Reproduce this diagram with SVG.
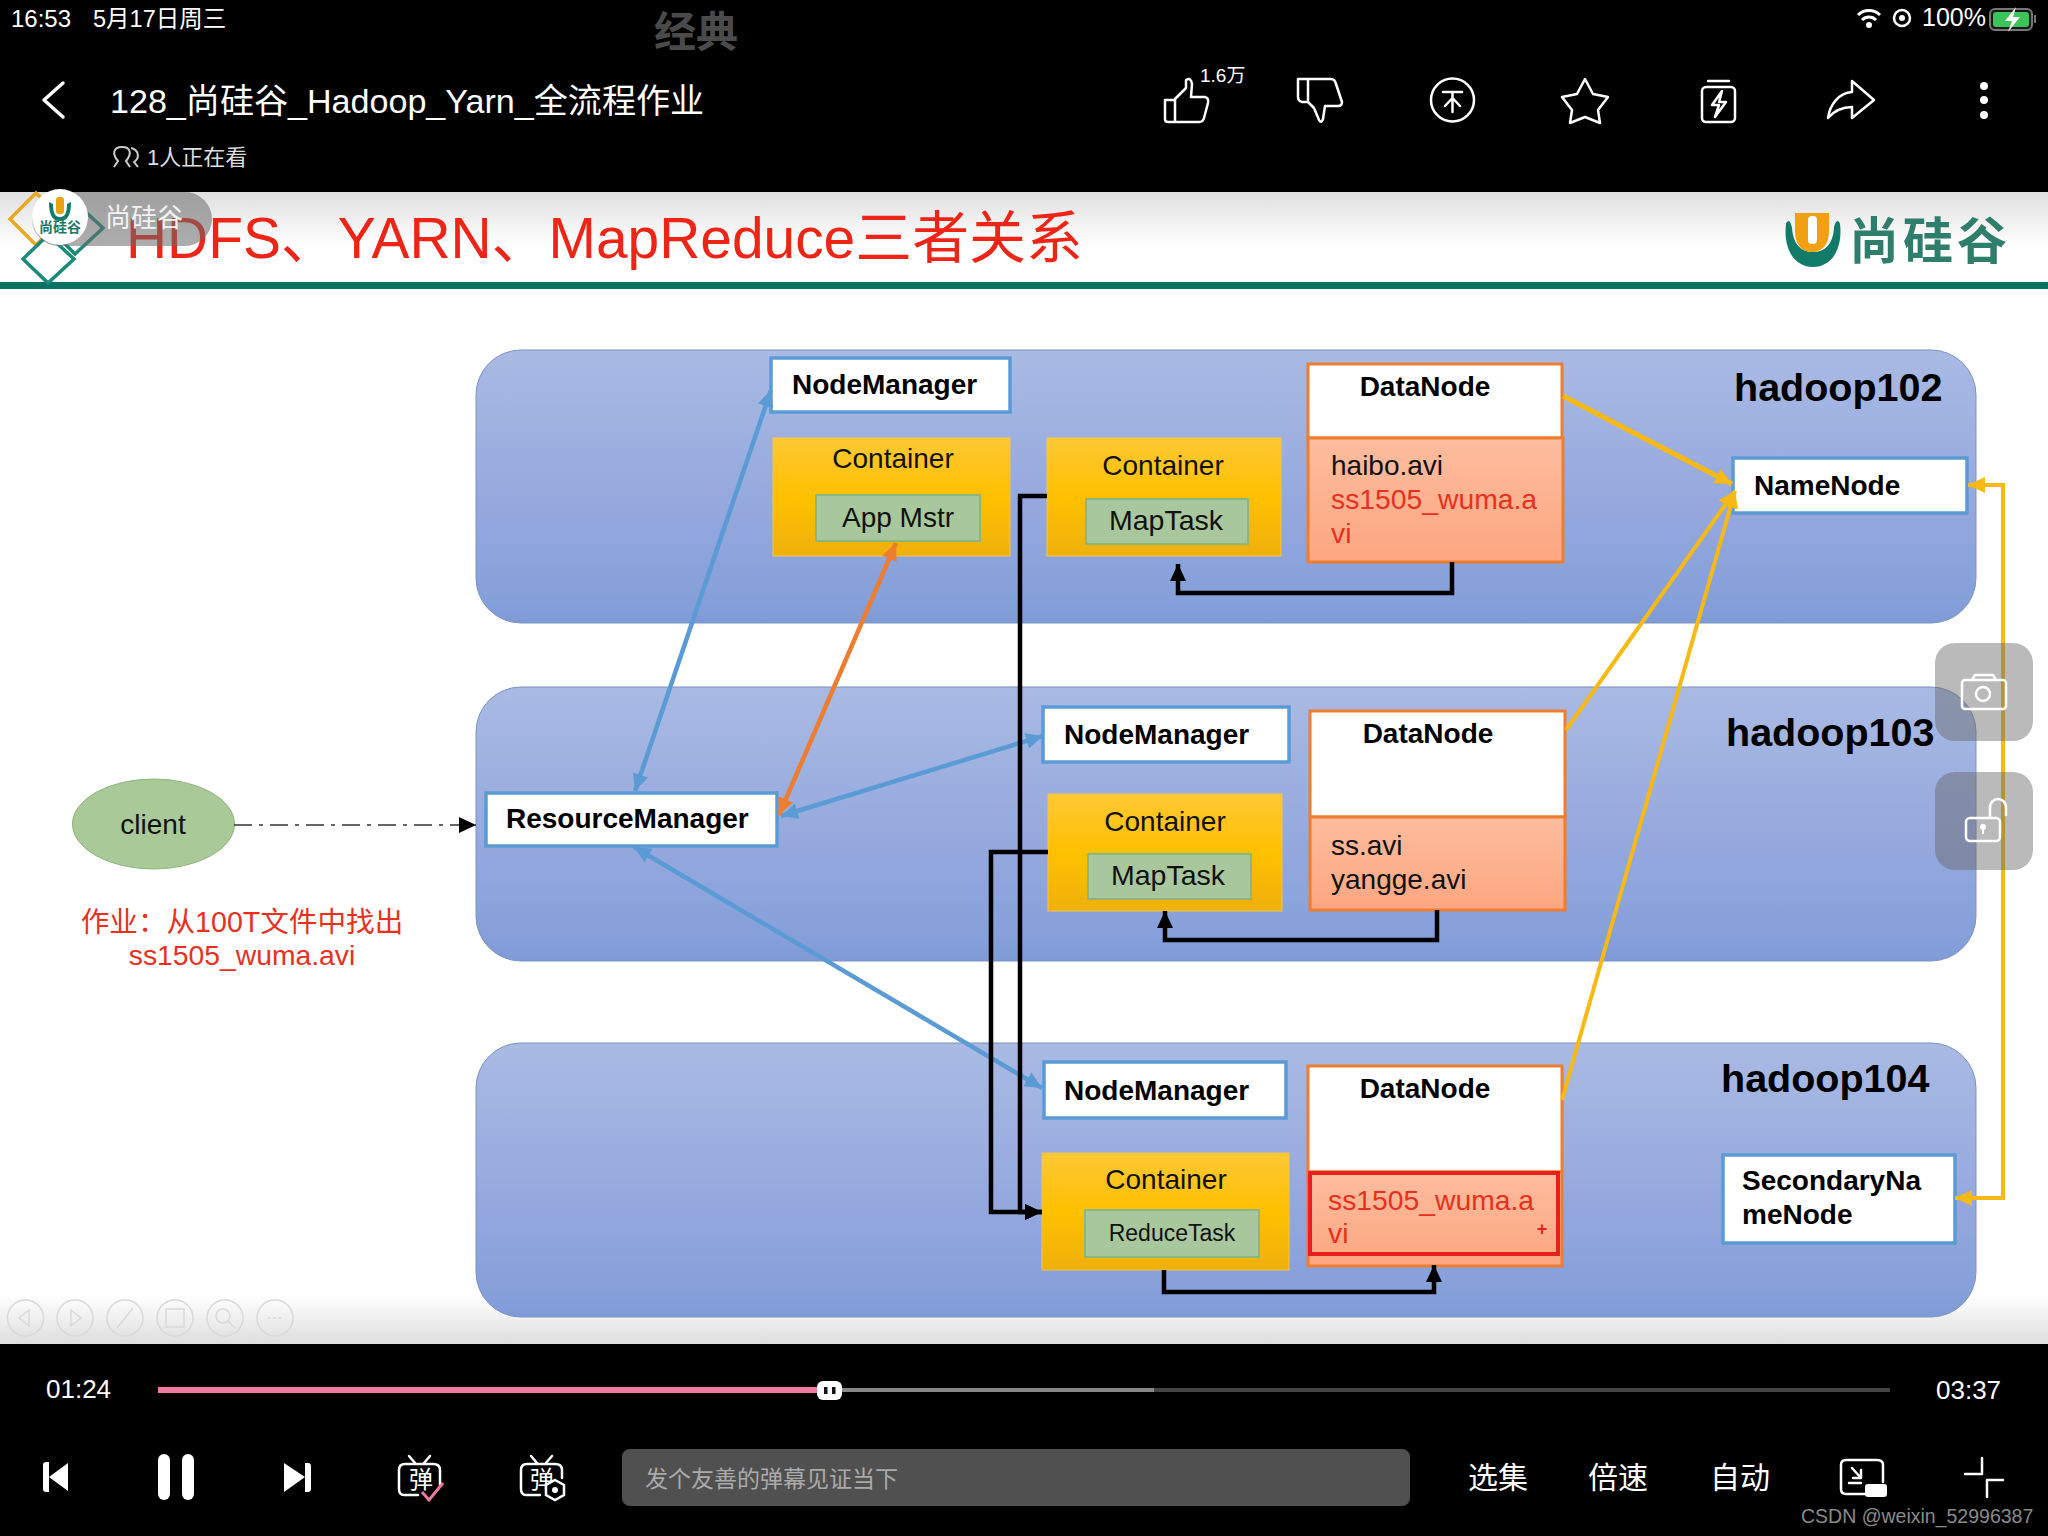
<svg xmlns="http://www.w3.org/2000/svg" width="2048" height="1536" viewBox="0 0 2048 1536">
<defs>
<linearGradient id="gPanel" x1="0" y1="0" x2="0" y2="1"><stop offset="0" stop-color="#a9bae3"/><stop offset="0.55" stop-color="#96a9de"/><stop offset="0.9" stop-color="#86a0da"/><stop offset="1" stop-color="#7f9bd6"/></linearGradient>
<linearGradient id="gCont" x1="0" y1="0" x2="0" y2="1"><stop offset="0" stop-color="#fdc835"/><stop offset="0.5" stop-color="#ffc000"/><stop offset="1" stop-color="#eeb00c"/></linearGradient>
<linearGradient id="gData" x1="0" y1="0" x2="0" y2="1"><stop offset="0" stop-color="#fdbd9e"/><stop offset="1" stop-color="#fca680"/></linearGradient>
<linearGradient id="gHead" x1="0" y1="0" x2="0" y2="1"><stop offset="0" stop-color="#e0e0e0"/><stop offset="1" stop-color="#ffffff"/></linearGradient>
<linearGradient id="gFoot" x1="0" y1="0" x2="0" y2="1"><stop offset="0" stop-color="#ffffff"/><stop offset="1" stop-color="#dedede"/></linearGradient>
<marker id="mBlue" markerUnits="userSpaceOnUse" markerWidth="20" markerHeight="20" refX="17" refY="8" orient="auto-start-reverse"><path d="M0,0L17,8L0,16z" fill="#5b9bd5"/></marker>
<marker id="mOrange" markerUnits="userSpaceOnUse" markerWidth="20" markerHeight="20" refX="17" refY="8" orient="auto-start-reverse"><path d="M0,0L17,8L0,16z" fill="#ed7d31"/></marker>
<marker id="mYellow" markerUnits="userSpaceOnUse" markerWidth="20" markerHeight="20" refX="17" refY="8" orient="auto-start-reverse"><path d="M0,0L17,8L0,16z" fill="#f7b913"/></marker>
<marker id="mBlack" markerUnits="userSpaceOnUse" markerWidth="20" markerHeight="20" refX="17" refY="8" orient="auto-start-reverse"><path d="M0,0L17,8L0,16z" fill="#000"/></marker>
</defs>
<style>
text{font-family:"Liberation Sans","Noto Sans CJK SC",sans-serif}
.panel{fill:url(#gPanel);stroke:#7b93c4;stroke-width:1}
.wb{fill:#fff;stroke:#5b9bd5;stroke-width:3.5}
.cont{fill:url(#gCont);stroke:#f3c54a;stroke-width:1}
.task{fill:#a9c79c;stroke:#8db57d;stroke-width:2}
.dtop{fill:#fff;stroke:#ed7d31;stroke-width:3}
.dlow{fill:url(#gData);stroke:#ed7d31;stroke-width:3}
.b{font-weight:700;font-size:28px;fill:#000}
.r{font-size:28px;fill:#111}
.mt{font-size:28.5px;fill:#111}
.red{font-size:28.300px;fill:#e8301e}
.m{text-anchor:middle}
.host{font-weight:700;font-size:39.500px;fill:#000}
.cb{fill:none;stroke:#000;stroke-width:4.5}
.cbl{fill:none;stroke:#5b9bd5;stroke-width:4.5;marker-start:url(#mBlue);marker-end:url(#mBlue)}
.cy{fill:none;stroke:#f7b913;stroke-width:4;marker-end:url(#mYellow)}
.ic{fill:none;stroke:#fff;stroke-width:2.5;stroke-linejoin:round;stroke-linecap:round}
.w{fill:#fff}
</style>
<rect width="2048" height="1536" fill="#000"/>
<g id="slide">
<rect x="0" y="192" width="2048" height="1152" fill="#fff"/>
<rect x="0" y="192" width="2048" height="55" fill="url(#gHead)"/>
<rect x="0" y="1295" width="2048" height="49" fill="url(#gFoot)"/>
<rect x="0" y="282" width="2048" height="7" fill="#0d7064"/>
<g fill="none" stroke-width="3.500"><path d="M36,193L62,219L36,245L10,219z" stroke="#e8a821"/><path d="M75,202L103,228L75,254L49,228z" stroke="#1c8a78"/><path d="M48,235L74,259L48,283L23,259z" stroke="#1c8a78"/></g>
<text x="126" y="258" font-size="56.900" fill="#ee2416">HDFS、YARN、MapReduce三者关系</text>
<g id="logo-right">
<path d="M1786,224C1783,250 1795,267 1813,267C1831,267 1843,250 1840,224C1838,218 1835,222 1834,228C1833,244 1825,252 1813,252C1801,252 1793,244 1792,228C1791,222 1788,218 1786,224z" fill="#127a68"/>
<path d="M1795,213H1829V231C1829,245 1822,252 1812,252C1802,252 1795,245 1795,231z" fill="#f0a010"/><rect x="1808" y="216" width="9" height="28" rx="4" fill="#fff"/>
<text x="1849" y="259" font-size="50" font-weight="700" fill="#2e7e6b" letter-spacing="4">尚硅谷</text>
</g>
<g fill="none" stroke="#d9d9d9" stroke-width="1.500"><circle cx="25.500" cy="1318" r="18"/><circle cx="75" cy="1318" r="18"/><circle cx="125" cy="1318" r="18"/><circle cx="175" cy="1318" r="18"/><circle cx="225" cy="1318" r="18"/><circle cx="275" cy="1318" r="18"/>
<path d="M29,1310L19,1318L29,1326z"/><path d="M71,1310L81,1318L71,1326z"/><path d="M117,1328L133,1308"/><rect x="166" y="1309" width="18" height="18"/><circle cx="223" cy="1316" r="7"/><path d="M228,1321L235,1328"/><path d="M268,1318h3m2,0h3m2,0h3"/></g>
</g>
<g id="hadoop102-panel"><rect class="panel" x="476" y="350" width="1500" height="273" rx="45"/></g>
<g id="hadoop103-panel"><rect class="panel" x="476" y="687" width="1500" height="274" rx="45"/></g>
<g id="hadoop104-panel"><rect class="panel" x="476" y="1043" width="1500" height="274" rx="45"/></g>
<text class="host" x="1734" y="401">hadoop102</text>
<text class="host" x="1726" y="746">hadoop103</text>
<text class="host" x="1721" y="1092">hadoop104</text>
<g id="client"><ellipse cx="153.500" cy="824" rx="81" ry="45" fill="#a9c998" stroke="#8db57d" stroke-width="1"/><text class="r m" x="153" y="834">client</text></g>
<g id="job-note"><text class="red m" x="242" y="932" style="font-size:28.600px">作业：从100T文件中找出</text><text class="red m" x="242" y="965">ss1505_wuma.avi</text></g>
<g id="resourcemanager"><rect class="wb" x="486" y="793" width="291" height="53"/><text class="b" x="506" y="828">ResourceManager</text></g>
<g id="nm102"><rect class="wb" x="771" y="358" width="239" height="54"/><text class="b" x="792" y="394">NodeManager</text></g>
<g id="container102a"><rect class="cont" x="773" y="438" width="237" height="118"/><text class="r m" x="893" y="468">Container</text><rect class="task" x="816" y="495" width="164" height="46"/><text class="r m" x="898" y="527">App Mstr</text></g>
<g id="container102b"><rect class="cont" x="1047" y="438" width="234" height="118"/><text class="r m" x="1163" y="475">Container</text><rect class="task" x="1086" y="499" width="162" height="45"/><text class="mt m" x="1166" y="530">MapTask</text></g>
<g id="dn102"><rect class="dtop" x="1308" y="364" width="254" height="74"/><rect class="dlow" x="1308" y="438" width="255" height="124"/><text class="b m" x="1425" y="396">DataNode</text><text class="r" x="1331" y="475">haibo.avi</text><text class="red" x="1331" y="509">ss1505_wuma.a</text><text class="red" x="1331" y="543">vi</text></g>
<g id="namenode"><rect class="wb" x="1733" y="458" width="234" height="55"/><text class="b" x="1754" y="495">NameNode</text></g>
<g id="nm103"><rect class="wb" x="1043" y="707" width="246" height="55"/><text class="b" x="1064" y="744">NodeManager</text></g>
<g id="container103"><rect class="cont" x="1048" y="794" width="234" height="117"/><text class="r m" x="1165" y="831">Container</text><rect class="task" x="1088" y="854" width="163" height="45"/><text class="mt m" x="1168" y="885">MapTask</text></g>
<g id="dn103"><rect class="dtop" x="1310" y="711" width="255" height="106"/><rect class="dlow" x="1310" y="817" width="255" height="93"/><text class="b m" x="1428" y="743">DataNode</text><text class="r" x="1331" y="855">ss.avi</text><text class="r" x="1331" y="889">yangge.avi</text></g>
<g id="nm104"><rect class="wb" x="1044" y="1062" width="242" height="56"/><text class="b" x="1064" y="1100">NodeManager</text></g>
<g id="container104"><rect class="cont" x="1042" y="1153" width="247" height="117"/><text class="r m" x="1166" y="1189">Container</text><rect class="task" x="1085" y="1210" width="174" height="47"/><text class="r m" x="1172" y="1241" style="font-size:23px">ReduceTask</text></g>
<g id="dn104"><rect class="dtop" x="1308" y="1066" width="254" height="106"/><rect x="1308" y="1172" width="254" height="94" fill="url(#gData)" stroke="#ed7d31" stroke-width="3"/><rect x="1310" y="1173" width="248" height="81" fill="none" stroke="#e8201c" stroke-width="4"/><text class="b m" x="1425" y="1098">DataNode</text><text class="red" x="1328" y="1210">ss1505_wuma.a</text><text class="red" x="1328" y="1243">vi</text><text x="1542" y="1235" font-size="18" font-weight="700" fill="#e8201c" class="m">+</text></g>
<g id="snn"><rect class="wb" x="1723" y="1155" width="232" height="88"/><text class="b" x="1742" y="1190">SecondaryNa</text><text class="b" x="1742" y="1224">meNode</text></g>
<g id="connectors">
<path d="M234,825H476" fill="none" stroke="#333" stroke-width="1.500" stroke-dasharray="18 7 4 7" marker-end="url(#mBlack)"/>
<path class="cbl" d="M771,390L635,791"/>
<path class="cbl" d="M1043,736L781,816"/>
<path class="cbl" d="M634,847L1042,1088"/>
<path d="M896,543L779,815" fill="none" stroke="#ed7d31" stroke-width="4.500" marker-start="url(#mOrange)" marker-end="url(#mOrange)"/>
<path class="cb" d="M1047,496H1020V1212H1042" marker-end="url(#mBlack)"/>
<path class="cb" d="M1048,852H991V1212H1042" marker-end="url(#mBlack)"/>
<path class="cb" d="M1452,562V593H1178V564" marker-end="url(#mBlack)"/>
<path class="cb" d="M1437,910V940H1165V911" marker-end="url(#mBlack)"/>
<path class="cb" d="M1164,1270V1292H1434V1265" marker-end="url(#mBlack)"/>
<path class="cy" d="M1563,396L1732,484" style="stroke-width:5"/>
<path class="cy" d="M1566,730L1735,491"/>
<path class="cy" d="M1562,1100L1735,491"/>
<path d="M1968,485H2003V1198H1955" fill="none" stroke="#f7b913" stroke-width="4" marker-start="url(#mYellow)" marker-end="url(#mYellow)"/>
</g>
<g id="logo-left">
<rect x="32" y="192" width="180" height="54" rx="27" fill="#6a6a6a" fill-opacity="0.55"/>
<circle cx="60" cy="217" r="28" fill="#fff"/>
<path d="M49,202C49,216 53,221 60,221C67,221 71,216 71,202L67,204C67,213 65,217 60,217C55,217 53,213 53,204z" fill="#127a68"/><rect x="56" y="197" width="8" height="17" rx="3" fill="#e9a210"/>
<text x="60" y="232" class="m" font-size="14" fill="#1c7a66" font-weight="700">尚硅谷</text>
<text x="105" y="227" font-size="26" fill="#f2f2f2">尚硅谷</text>
</g>
<g id="status-bar">
<text class="w" x="11" y="27" font-size="24">16:53</text>
<text class="w" x="93" y="27" font-size="23.500">5月17日周三</text>
<text x="654" y="47" font-size="42" font-weight="700" fill="#4a4a4a">经典</text>
<path d="M1858,15C1864,9 1874,9 1880,15M1862,20C1866,16 1872,16 1876,20" fill="none" stroke="#fff" stroke-width="3"/><circle cx="1869" cy="25" r="3" fill="#fff"/>
<circle cx="1902" cy="18" r="8" fill="none" stroke="#fff" stroke-width="2.500"/><circle cx="1902" cy="18" r="3" fill="#fff"/>
<text class="w" x="1922" y="26" font-size="25">100%</text>
<rect x="1990" y="9" width="42" height="21" rx="5" fill="#1a1a1a" stroke="#777" stroke-width="2"/><rect x="1993" y="12" width="36" height="15" rx="3" fill="#3cc35a"/><path d="M2016,7L2005,21H2012L2008,32L2020,17H2013z" fill="#fff"/><rect x="2034" y="15" width="2" height="8" fill="#777"/>
</g>
<g id="top-bar">
<path class="ic" d="M63,83L44,100L63,117" style="stroke-width:3.500"/>
<text class="w" x="110" y="113" font-size="34.100">128_尚硅谷_Hadoop_Yarn_全流程作业</text>
<path d="M114,167L118,161C112,154 113,147 122,147C131,147 132,154 126,161L130,167M131,148C139,150 140,158 134,162L138,167" fill="none" stroke="#ccc" stroke-width="2"/>
<text x="147" y="165" font-size="22" fill="#ddd">1人正在看</text>
<path class="ic" d="M1165,100H1175V122H1168Q1165,122 1165,119zM1175,99L1186,88V80Q1191,77 1192,84L1191,97H1205Q1209,98 1208,103L1204,118Q1203,122 1199,122H1175"/>
<text class="w" x="1200" y="82" font-size="19">1.6万</text>
<path class="ic" d="M1308,79H1298V97Q1298,101 1302,102H1308zM1308,79H1331Q1335,79 1336,84L1342,102Q1342,106 1338,106H1325L1323,119Q1321,124 1319,120L1314,108L1308,102"/>
<circle class="ic" cx="1452.500" cy="100" r="21.500"/><path class="ic" d="M1443,92H1462M1452.500,92V112M1452.500,98L1445,106M1452.500,98L1460,106"/>
<path class="ic" d="M1585,79L1593,94L1608,97L1598,110L1600,123L1585,117L1570,123L1572,110L1562,97L1577,94z"/>
<rect class="ic" x="1702" y="87" width="33" height="35" rx="4"/><path class="ic" d="M1708,81H1729M1722,91L1712,105H1719L1715,117L1726,102H1719z"/>
<path class="ic" d="M1852,81L1874,100L1852,118V107C1842,107 1834,111 1828,118C1830,104 1839,93 1852,92z"/>
<circle class="w" cx="1984" cy="86" r="4"/><circle class="w" cx="1984" cy="100" r="4"/><circle class="w" cx="1984" cy="115" r="4"/>
</g>
<g id="side-buttons">
<rect x="1935" y="643" width="98" height="98" rx="20" fill="#666" fill-opacity="0.45"/>
<rect x="1935" y="772" width="98" height="98" rx="20" fill="#666" fill-opacity="0.45"/>
<rect class="ic" x="1962" y="680" width="44" height="29" rx="3"/><path class="ic" d="M1972,680L1975,675H1993L1996,680"/><circle class="ic" cx="1983" cy="694" r="7"/>
<rect class="ic" x="1966" y="818" width="34" height="23" rx="4"/><path class="ic" d="M1990,818V808C1990,796 2006,796 2006,808V815"/><circle cx="1983" cy="827" r="3" fill="#fff"/><path d="M1982,828h2v6h-2z" fill="#fff"/>
</g>
<g id="player-bar">
<text class="w" x="46" y="1398" font-size="26">01:24</text>
<rect x="158" y="1387" width="671" height="6" fill="#f07a9e"/>
<rect x="829" y="1388" width="325" height="4" fill="#888"/>
<rect x="1154" y="1388" width="736" height="4" fill="#444"/>
<rect x="817" y="1381" width="25" height="19" rx="6" fill="#fff"/><rect x="824" y="1387" width="3.500" height="7" fill="#111"/><rect x="832" y="1387" width="3.500" height="7" fill="#111"/>
<text class="w" x="1936" y="1399" font-size="26">03:37</text>
<path class="w" d="M43,1465Q43,1462 46,1462H49V1492H46Q43,1492 43,1489zM49,1477L68,1463V1491z"/>
<rect class="w" x="158" y="1454" width="12" height="46" rx="6"/><rect class="w" x="182" y="1454" width="12" height="46" rx="6"/>
<path class="w" d="M311,1466Q311,1463 308,1463H305V1492H308Q311,1492 311,1489zM305,1477L284,1463V1492z"/>
<path class="ic" d="M409,1456L415,1463M430,1456L424,1463"/><path class="ic" d="M418,1495H404Q399,1495 399,1489V1470Q399,1464 405,1464H433Q440,1464 440,1470V1485"/><text x="409" y="1488" font-size="24" fill="#fff">弹</text>
<path d="M422,1492L429,1500L443,1483" fill="none" stroke="#f07a9e" stroke-width="3"/>
<path class="ic" d="M531,1456L537,1463M552,1456L546,1463"/><path class="ic" d="M540,1495H526Q521,1495 521,1489V1470Q521,1464 527,1464H555Q562,1464 562,1470V1478"/><text x="530" y="1488" font-size="24" fill="#fff">弹</text>
<path d="M555,1480L564,1485V1495L555,1500L546,1495V1485z" fill="#000" stroke="#fff" stroke-width="2.500"/><circle cx="555" cy="1490" r="3" fill="#fff"/>
<rect x="622" y="1449" width="788" height="57" rx="8" fill="#505050"/>
<text x="645" y="1487" font-size="23" fill="#aaa">发个友善的弹幕见证当下</text>
<text class="w" x="1468" y="1488" font-size="30">选集</text>
<text class="w" x="1588" y="1488" font-size="30">倍速</text>
<text class="w" x="1710" y="1488" font-size="30">自动</text>
<path class="ic" d="M1865,1494H1846Q1841,1494 1841,1489V1465Q1841,1460 1846,1460H1877Q1883,1460 1883,1465V1482"/><path class="ic" d="M1852,1468L1861,1478M1861,1470V1478H1853M1849,1483H1861"/><rect class="w" x="1865" y="1484" width="22" height="13" rx="3"/>
<path class="ic" d="M1982,1458V1474H1965M1987,1497V1480H2003"/>
<text x="1801" y="1523" font-size="19.500" fill="#8a8a8a">CSDN @weixin_52996387</text>
</g>
</svg>
